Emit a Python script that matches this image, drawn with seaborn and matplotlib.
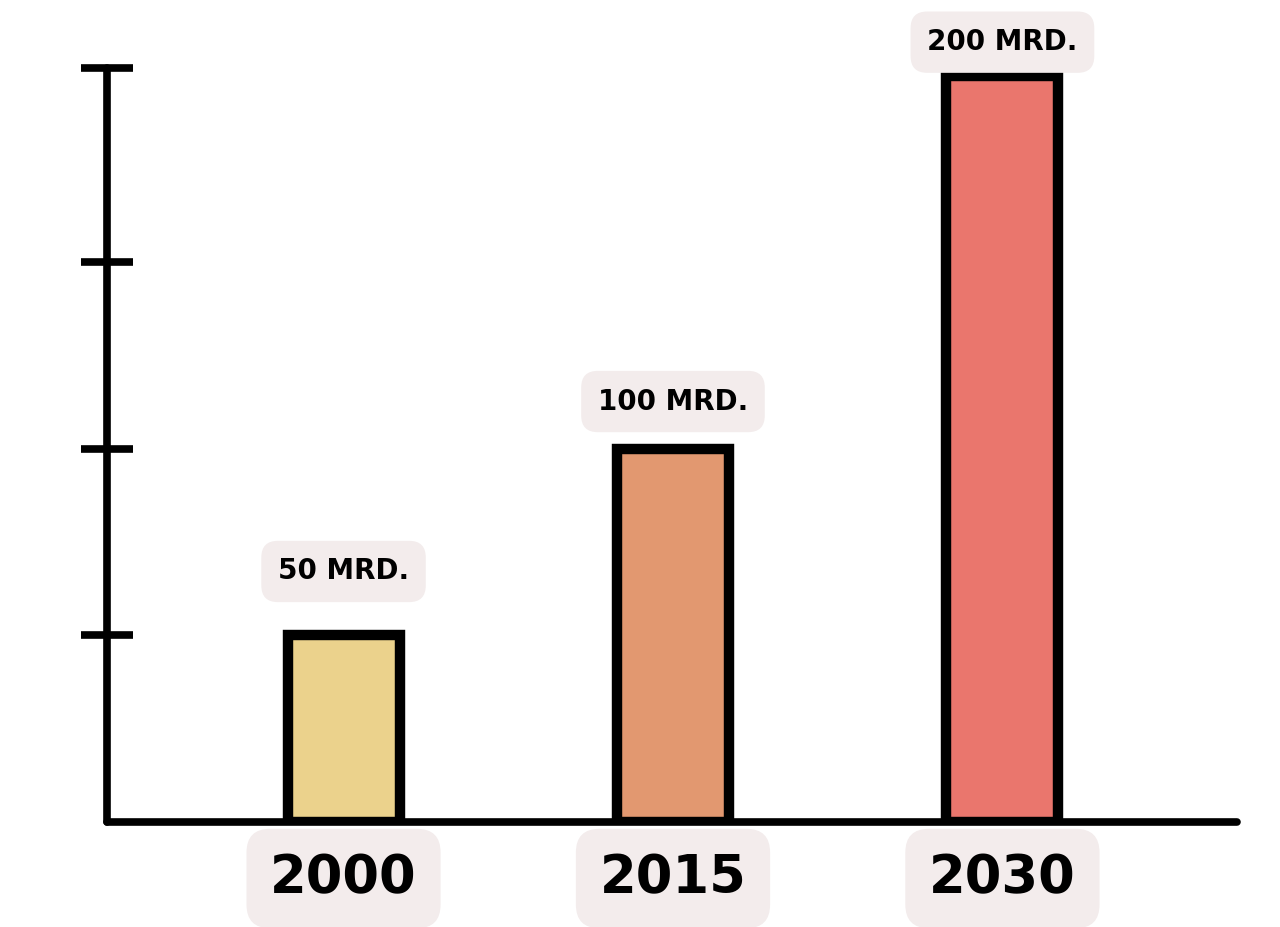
import matplotlib
matplotlib.use("Agg")
import matplotlib.pyplot as plt
import seaborn as sns
import pandas as pd

years = ["2000", "2015", "2030"]
values = [50, 100, 200]
value_labels = ["50 MRD.", "100 MRD.", "200 MRD."]
bar_colors = ["#EBD28C", "#E29870", "#EA766D"]
y_ticks = [50, 100, 150, 202]
label_offsets_pt = [46, 34, 24]

sns.set_style("white")
plt.rcParams["font.family"] = ["DejaVu Sans"]

df = pd.DataFrame({"year": years, "value": values})

fig = plt.figure(figsize=(12.8, 9.27), dpi=100)
ax = fig.add_axes([0.0836, 0.1133, 0.8828, 0.8133])

sns.barplot(data=df, x="year", y="value", hue="year", palette=bar_colors,
            width=0.34, edgecolor="black", linewidth=7.5, legend=False, ax=ax,
            saturation=1)

ax.set_xlim(-0.718, 2.712)
ax.set_ylim(0, 202)

for s in ["top", "right"]:
    ax.spines[s].set_visible(False)
for s in ["left", "bottom"]:
    ax.spines[s].set_linewidth(5.5)
    ax.spines[s].set_color("black")
    ax.spines[s].set_capstyle("round")

ax.set_yticks(y_ticks)
ax.set_yticklabels([])
ax.tick_params(axis="y", left=True, direction="inout", length=38, width=5.5, color="black")
ax.tick_params(axis="x", bottom=False, length=0, pad=22)
ax.set_xlabel("")
ax.set_ylabel("")

ax.set_xticks(range(len(years)))
ax.set_xticklabels(years, fontsize=38, fontweight="bold", color="black")
for lab in ax.get_xticklabels():
    lab.set_bbox(dict(boxstyle="round,pad=0.45", facecolor="#F3ECEC", edgecolor="none"))

for i, (v, t, off) in enumerate(zip(values, value_labels, label_offsets_pt)):
    ax.annotate(t, (i, v), xytext=(0, off), textcoords="offset points",
                ha="center", va="center", fontsize=20, fontweight="bold", color="black",
                bbox=dict(boxstyle="round,pad=0.6", facecolor="#F3ECEC", edgecolor="none"),
                annotation_clip=False)

fig.savefig("out.png", dpi=100, facecolor="white")
